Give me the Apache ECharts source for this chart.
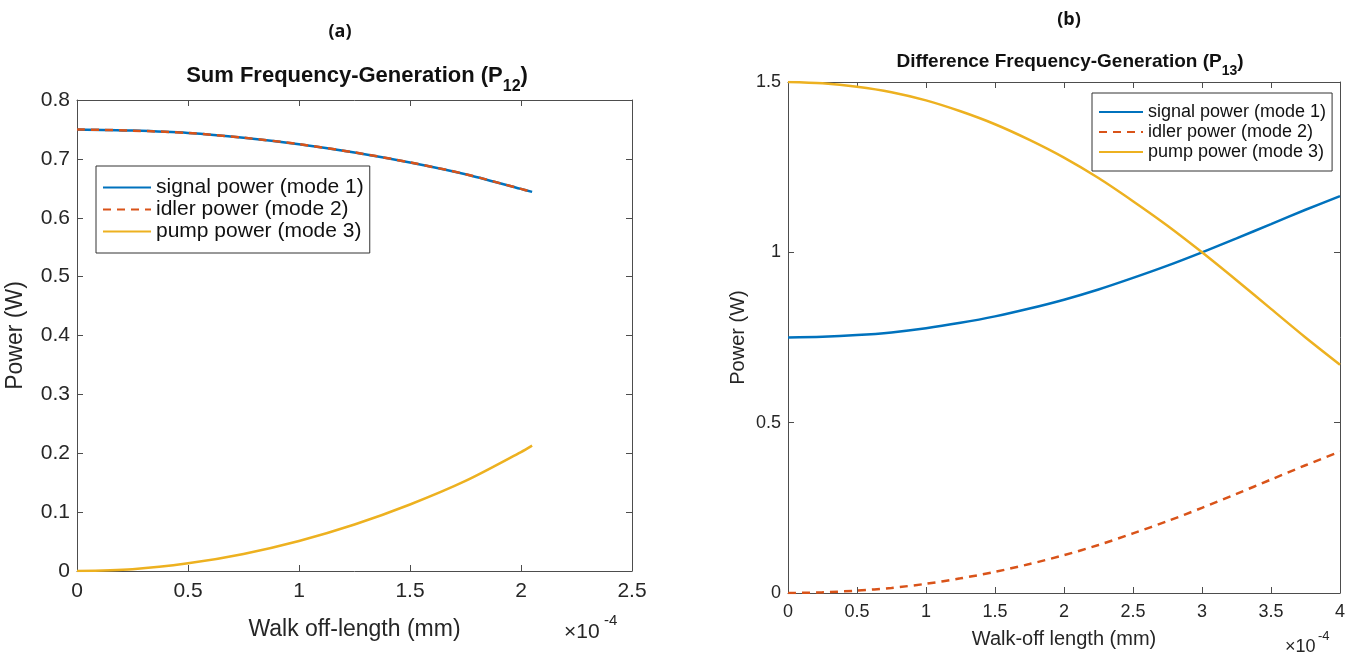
<!DOCTYPE html>
<html>
<head>
<meta charset="utf-8">
<title>Walk-off power</title>
<script src="https://cdn.jsdelivr.net/npm/echarts@6/dist/echarts.min.js"></script>
<style>
  html, body { margin: 0; padding: 0; background: #fff; }
  #chart { width: 1357px; height: 660px; }
</style>
</head>
<body>
<div id="chart"></div>
<script>
// (a) sum frequency generation, walk-off length in units of 1e-4 mm
const xSum = [0, 0.25, 0.5, 0.75, 1, 1.25, 1.5, 1.75, 2, 2.05]
const signalSum = [0.75, 0.748, 0.744, 0.736, 0.725, 0.711, 0.694, 0.674, 0.649, 0.644]
const idlerSum = [0.75, 0.748, 0.744, 0.736, 0.725, 0.711, 0.694, 0.674, 0.649, 0.644]
const pumpSum = [0, 0.003, 0.013, 0.029, 0.051, 0.079, 0.113, 0.153, 0.202, 0.213]

// (b) difference frequency generation
const xDiff = [0, 0.25, 0.5, 0.75, 1, 1.25, 1.5, 1.75, 2, 2.25, 2.5, 2.75, 3, 3.25, 3.5, 3.75, 4]
const signalDiff = [0.75, 0.752, 0.757, 0.765, 0.777, 0.793, 0.812, 0.835, 0.861, 0.891, 0.925, 0.961, 1.0, 1.041, 1.083, 1.125, 1.165]
const idlerDiff = [0, 0.002, 0.007, 0.015, 0.027, 0.043, 0.062, 0.085, 0.111, 0.141, 0.175, 0.211, 0.25, 0.291, 0.333, 0.375, 0.415]
const pumpDiff = [1.5, 1.496, 1.486, 1.47, 1.446, 1.414, 1.376, 1.33, 1.278, 1.218, 1.15, 1.078, 1.0, 0.918, 0.834, 0.75, 0.67]

const seriesNames = ['signal power (mode 1)', 'idler power (mode 2)', 'pump power (mode 3)']
const colors = ['#0072BD', '#D95319', '#EDB120']

const FONT = '"Liberation Sans", Arial, sans-serif'
const TXT = '#262626'
const AX = '#4d4d4d'

const pairs = (xs, ys) => xs.map((x, i) => [x, ys[i]])

function mkSeries(idx, xs, arr, name, ci) {
  return {
    name: name,
    type: 'line',
    xAxisIndex: idx,
    yAxisIndex: idx,
    data: pairs(xs, arr),
    symbol: 'none',
    smooth: 0.3,
    lineStyle: { color: colors[ci], width: 2.5, type: ci === 1 ? [8, 6] : 'solid' },
    itemStyle: { color: colors[ci] },
    z: ci === 1 ? 3 : 2
  }
}

function mainX(gi, max, size, name, nsize, gap) {
  return {
    type: 'value', gridIndex: gi, min: 0, max: max, interval: 0.5,
    name: name, nameLocation: 'middle', nameGap: gap,
    nameTextStyle: { color: TXT, fontFamily: FONT, fontSize: nsize },
    axisLine: { onZero: false, lineStyle: { color: AX, width: 1 } },
    axisTick: { inside: true, length: 6, lineStyle: { color: AX } },
    axisLabel: { color: TXT, fontFamily: FONT, fontSize: size, margin: 10 },
    splitLine: { show: false }
  }
}
function mainY(gi, max, iv, size, nsize, gap) {
  return {
    type: 'value', gridIndex: gi, min: 0, max: max, interval: iv,
    name: 'Power (W)', nameLocation: 'middle', nameGap: gap,
    nameTextStyle: { color: TXT, fontFamily: FONT, fontSize: nsize },
    axisLine: { onZero: false, lineStyle: { color: AX, width: 1 } },
    axisTick: { inside: true, length: 6, lineStyle: { color: AX } },
    axisLabel: { color: TXT, fontFamily: FONT, fontSize: size, margin: 7 },
    splitLine: { show: false }
  }
}
function boxAxis(kind, gi, max, iv) {
  return {
    type: 'value', gridIndex: gi, min: 0, max: max, interval: iv,
    position: kind === 'x' ? 'top' : 'right',
    axisLine: { onZero: false, lineStyle: { color: AX, width: 1 } },
    axisTick: { inside: true, length: 6, lineStyle: { color: AX } },
    axisLabel: { show: false },
    splitLine: { show: false }
  }
}

const chart = echarts.init(document.getElementById('chart'))

const option = {
  backgroundColor: '#fff',
  animation: false,
  title: [
    { text: '(a)', left: 335, top: 18, textAlign: 'center',
      textStyle: { fontFamily: '"Open Sans", sans-serif', fontWeight: 'bold', fontSize: 18, color: '#111' } },
    { text: '(b)', left: 1064, top: 6, textAlign: 'center',
      textStyle: { fontFamily: '"Open Sans", sans-serif', fontWeight: 'bold', fontSize: 18, color: '#111' } },
    { text: '{t|Sum Frequency-Generation (P}{s|12}{t|)}', left: 352, top: 60, textAlign: 'center',
      textStyle: { rich: {
        t: { fontFamily: FONT, fontWeight: 'bold', fontSize: 22, color: '#111', verticalAlign: 'top' },
        s: { fontFamily: FONT, fontWeight: 'bold', fontSize: 16, color: '#111', padding: [14, 0, 0, 0] } } } },
    { text: '{t|Difference Frequency-Generation (P}{s|13}{t|)}', left: 1065, top: 47, textAlign: 'center',
      textStyle: { rich: {
        t: { fontFamily: FONT, fontWeight: 'bold', fontSize: 19, color: '#111', verticalAlign: 'top' },
        s: { fontFamily: FONT, fontWeight: 'bold', fontSize: 14, color: '#111', padding: [12, 0, 0, 0] } } } }
  ],
  legend: [
    { data: seriesNames, orient: 'vertical', left: 96, top: 166,
      itemWidth: 48, itemHeight: 10, itemGap: 1, padding: [11, 6, 11, 6],
      borderColor: '#333', borderWidth: 1, backgroundColor: '#fff',
      itemStyle: { opacity: 0 },
      textStyle: { fontFamily: FONT, fontSize: 21, color: '#111' },
      selectedMode: false },
    { data: seriesNames.slice(), orient: 'vertical', left: 1092, top: 93,
      itemWidth: 44, itemHeight: 10, itemGap: 2, padding: [10, 6, 10, 6],
      borderColor: '#333', borderWidth: 1, backgroundColor: '#fff',
      itemStyle: { opacity: 0 },
      textStyle: { fontFamily: FONT, fontSize: 18, color: '#111' },
      selectedMode: false }
  ],
  grid: [
    { left: 77, top: 100, width: 555, height: 471 },
    { left: 788, top: 82, width: 552, height: 511 }
  ],
  xAxis: [
    mainX(0, 2.5, 21, 'Walk off-length (mm)', 23, 47),
    mainX(1, 4, 18, 'Walk-off length (mm)', 20, 36),
    boxAxis('x', 0, 2.5, 0.5),
    boxAxis('x', 1, 4, 0.5)
  ],
  yAxis: [
    mainY(0, 0.8, 0.1, 21, 23, 50),
    mainY(1, 1.5, 0.5, 18, 20, 40),
    boxAxis('y', 0, 0.8, 0.1),
    boxAxis('y', 1, 1.5, 0.5)
  ],
  series: [
    mkSeries(0, xSum, signalSum, seriesNames[0], 0),
    mkSeries(0, xSum, idlerSum, seriesNames[1], 1),
    mkSeries(0, xSum, pumpSum, seriesNames[2], 2),
    mkSeries(1, xDiff, signalDiff, seriesNames[0], 0),
    mkSeries(1, xDiff, idlerDiff, seriesNames[1], 1),
    mkSeries(1, xDiff, pumpDiff, seriesNames[2], 2)
  ],
  graphic: [
    { type: 'text', left: 564, top: 622,
      style: { text: '×10', fontFamily: FONT, fontSize: 21, fill: TXT } },
    { type: 'text', left: 604, top: 613,
      style: { text: '-4', fontFamily: FONT, fontSize: 15, fill: TXT } },
    { type: 'text', left: 1285, top: 638,
      style: { text: '×10', fontFamily: FONT, fontSize: 18, fill: TXT } },
    { type: 'text', left: 1318, top: 630,
      style: { text: '-4', fontFamily: FONT, fontSize: 13, fill: TXT } }
  ]
}

chart.setOption(option)
</script>
</body>
</html>
